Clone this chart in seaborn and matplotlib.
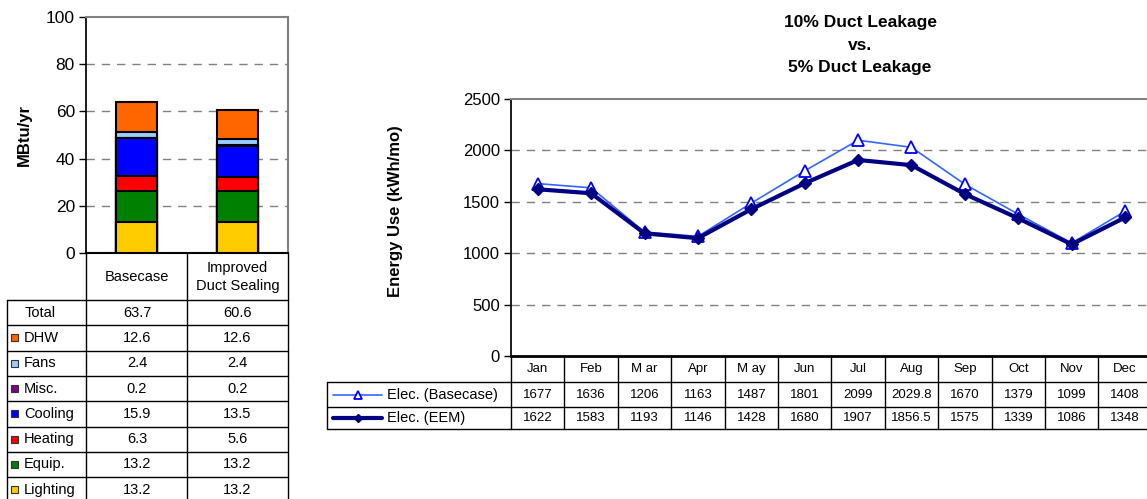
"""
Annual end-use breakdown (stacked bars with data table) next to the
monthly electricity use of the basecase and the duct sealing measure.
"""

import numpy as np
import pandas as pd
import seaborn as sns
import matplotlib.pyplot as plt

sns.set_theme(style="white")
plt.rcParams["font.family"] = ["Liberation Sans", "DejaVu Sans"]
plt.rcParams["text.color"] = "black"
plt.rcParams["axes.labelcolor"] = "black"
plt.rcParams["ytick.color"] = "black"

# data: annual end uses (MBtu/yr), stacked bottom -> top
scenarios = ["Basecase", "Improved\nDuct Sealing"]
end_uses = ["Lighting", "Equip.", "Heating", "Cooling", "Misc.", "Fans", "DHW"]
end_use_colors = ["#FFCC00", "#008000", "#FF0000", "#0000FF", "#800080",
                  "#99CCFF", "#FF6600"]
basecase_use = [13.2, 13.2, 6.3, 15.9, 0.2, 2.4, 12.6]
sealing_use = [13.2, 13.2, 5.6, 13.5, 0.2, 2.4, 12.6]
totals = [63.7, 60.6]

# data: monthly electricity (kWh/mo)
months = ["Jan", "Feb", "M ar", "Apr", "M ay", "Jun", "Jul", "Aug", "Sep",
          "Oct", "Nov", "Dec"]
elec_base = [1677, 1636, 1206, 1163, 1487, 1801, 2099, 2029.8, 1670, 1379,
             1099, 1408]
elec_eem = [1622, 1583, 1193, 1146, 1428, 1680, 1907, 1856.5, 1575, 1339,
            1086, 1348]

W, H = 1147, 499
fig = plt.figure(figsize=(W / 100, H / 100), dpi=100)


def px_axes(left, top, right, bottom):
    """ add an axes given its box in pixels (origin top-left) """
    return fig.add_axes([left / W, 1 - bottom / H,
                         (right - left) / W, (bottom - top) / H])


# overlay in pixel coordinates for the data tables
tab = fig.add_axes([0, 0, 1, 1])
tab.set_xlim(0, W)
tab.set_ylim(H, 0)
tab.axis("off")
tab.patch.set_alpha(0)

grid_kw = dict(color="#808080", linestyle=(0, (6, 5)), linewidth=1)

# ---- left: stacked bars ----
ax1 = px_axes(86, 17, 288, 253)
cum_base = np.cumsum(basecase_use)
cum_seal = np.cumsum(sealing_use)
for i in range(len(end_uses) - 1, -1, -1):
    sns.barplot(x=scenarios, y=[cum_base[i], cum_seal[i]],
                color=end_use_colors[i], saturation=1, width=0.4,
                edgecolor="black", linewidth=1.5, ax=ax1, zorder=3)
ax1.set_ylim(0, 100)
ax1.set_xlim(-0.5, 1.5)
ax1.set_yticks(range(0, 101, 20))
for v in range(20, 100, 20):
    ax1.axhline(v, zorder=1, **grid_kw)
ax1.tick_params(axis="y", labelsize=12.5, length=5, width=1, color="black",
                left=True, pad=3)
ax1.tick_params(axis="x", bottom=False, labelbottom=False)
ax1.set_ylabel("MBtu/yr", fontsize=12, fontweight="bold")
ax1.yaxis.set_label_coords(-0.27, 0.5)
ax1.set_xlabel("")
for side in ["top", "right"]:
    ax1.spines[side].set_color("#808080")
    ax1.spines[side].set_linewidth(1.5)
ax1.spines["left"].set_color("black")
ax1.spines["bottom"].set_color("black")
ax1.spines["bottom"].set_linewidth(1.5)

# left table
line_kw = dict(color="black", linewidth=1)
col_x = [7, 86, 187, 288]
row_h = 25.3
for x in col_x[1:]:
    tab.plot([x, x], [253, 300], **line_kw)
for j, name in enumerate(scenarios):
    tab.text((col_x[j + 1] + col_x[j + 2]) / 2, 277, name, ha="center",
             va="center", fontsize=10.5, linespacing=1.3)
row_names = ["Total"] + end_uses[::-1]
row_base = [totals[0]] + basecase_use[::-1]
row_seal = [totals[1]] + sealing_use[::-1]
row_cols = [None] + end_use_colors[::-1]
for r, name in enumerate(row_names):
    top = 300 + r * row_h
    tab.plot([col_x[0], col_x[-1]], [top, top], **line_kw)
    yc = top + row_h / 2
    if row_cols[r] is None:
        tab.text(25, yc, name, ha="left", va="center", fontsize=10.5)
    else:
        tab.add_patch(plt.Rectangle((11, yc - 3.5), 7, 7,
                                    facecolor=row_cols[r],
                                    edgecolor="#333333", linewidth=0.8))
        tab.text(24, yc, name, ha="left", va="center", fontsize=10.5)
    tab.text(137, yc, f"{row_base[r]:.1f}", ha="center", va="center",
             fontsize=10.5)
    tab.text(237.5, yc, f"{row_seal[r]:.1f}", ha="center", va="center",
             fontsize=10.5)
for x in col_x:
    tab.plot([x, x], [300, H], **line_kw)

# ---- right: monthly lines ----
col_w = 53.4
x0 = 511
ax2 = px_axes(x0, 99, x0 + 12 * col_w, 356)
idx = np.arange(len(months))
for v in range(500, 2500, 500):
    ax2.axhline(v, zorder=1, **grid_kw)
sns.lineplot(x=idx, y=elec_base, sort=False, ax=ax2, color="#3366FF",
             linewidth=1.2, marker="^", markersize=9,
             markerfacecolor="white", markeredgecolor="#0000FF",
             markeredgewidth=1.3, zorder=4)
sns.lineplot(x=idx, y=elec_eem, sort=False, ax=ax2, color="#000080",
             linewidth=3, marker="D", markersize=6.5,
             markeredgecolor="#000080", markeredgewidth=1, zorder=5)
ax2.set_xlim(-0.5, 11.5)
ax2.set_ylim(0, 2500)
ax2.set_yticks(range(0, 2501, 500))
ax2.tick_params(axis="y", labelsize=12, length=5, width=1, color="black",
                left=True, pad=3)
ax2.tick_params(axis="x", bottom=False, labelbottom=False)
ax2.set_ylabel("Energy Use (kWh/mo)", fontsize=12, fontweight="bold")
ax2.yaxis.set_label_coords(-0.168, 0.565)
ax2.spines["top"].set_color("#808080")
ax2.spines["top"].set_linewidth(1.5)
ax2.spines["right"].set_visible(False)
ax2.spines["left"].set_color("black")
ax2.spines["bottom"].set_color("black")
ax2.spines["bottom"].set_linewidth(2)

fig.text(860 / W, 1 - 45 / H, "10% Duct Leakage\nvs.\n5% Duct Leakage",
         ha="center", va="center", fontsize=12.5, fontweight="bold",
         linespacing=1.6)

# right table
x_end = x0 + 12 * col_w
rows_y = [356, 382, 407, 429]
for y in rows_y[1:]:
    tab.plot([327, x_end], [y, y], **line_kw)
for k in range(13):
    xk = x0 + k * col_w
    tab.plot([xk, xk], [356, 429], **line_kw)
tab.plot([327, 327], [382, 429], **line_kw)
for k, m in enumerate(months):
    xc = x0 + (k + 0.5) * col_w
    tab.text(xc, 369, m, ha="center", va="center", fontsize=9.5)
    tab.text(xc, 394.5, f"{elec_base[k]:g}", ha="center", va="center",
             fontsize=9.5)
    tab.text(xc, 418, f"{elec_eem[k]:g}", ha="center", va="center",
             fontsize=9.5)
tab.plot([333, 382], [394.5, 394.5], color="#3366FF", linewidth=1.2)
tab.plot([357.5], [394.5], marker="^", markersize=6, color="#0000FF",
         markerfacecolor="white", markeredgewidth=1.3)
tab.plot([333, 382], [418, 418], color="#000080", linewidth=3)
tab.plot([357.5], [418], marker="D", markersize=4.5, color="#000080")
tab.text(387, 394.5, "Elec. (Basecase)", ha="left", va="center",
         fontsize=10.5)
tab.text(387, 418, "Elec. (EEM)", ha="left", va="center", fontsize=10.5)

fig.savefig("out.png", dpi=100)
